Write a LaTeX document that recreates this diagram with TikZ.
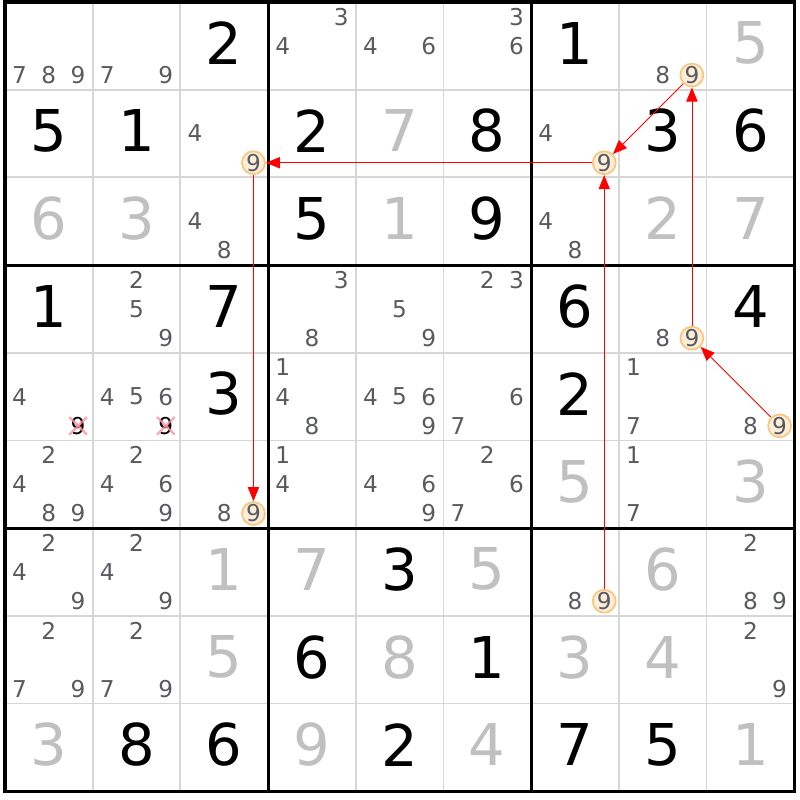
\documentclass[tikz,border=0pt]{standalone}
\usepackage{fontspec}
\setmainfont{DejaVu Sans}
\usepackage{tikz}
\usetikzlibrary{arrows.meta}
\definecolor{candgray}{RGB}{88,90,96}
\definecolor{solvedgray}{RGB}{192,192,192}
\definecolor{thingrid}{RGB}{214,214,214}
\definecolor{hlfill}{RGB}{253,238,218}
\definecolor{hldraw}{RGB}{248,200,130}
\definecolor{crosspink}{RGB}{255,140,155}
\tikzstyle{given} = [font=\fontsize{41}{41}\selectfont, text=black, inner sep=0pt]
\tikzstyle{solved} = [given, text=solvedgray]
\tikzstyle{cand} = [font=\fontsize{16.5}{16.5}\selectfont, text=candgray, inner sep=0pt]
\tikzstyle{hl} = [cand, circle, draw=hldraw, fill=hlfill, line width=1.3pt, minimum size=16pt]
\tikzstyle{thin grid} = [thingrid, line width=1.3pt]
\tikzstyle{thick grid} = [black, line width=2.2pt]
\tikzstyle{arrow} = [red, line width=0.6pt, -{Triangle[length=10pt,width=8pt]}]
\tikzstyle{cross} = [crosspink, opacity=0.8, line width=1.6pt]

\begin{document}
\begin{tikzpicture}[x=2.1925cm, y=-2.1925cm]
    \useasboundingbox (-0.057,-0.0228) rectangle (9.065,9.1);
    % grid
    \foreach \i in {1,2,4,5,7,8} {
        \draw [thin grid] (\i,0) -- (\i,9);
        \draw [thin grid] (0,\i) -- (9,\i);
    }
    \foreach \i in {3,6} {
        \draw [thick grid] (\i,0) -- (\i,9);
        \draw [thick grid] (0,\i) -- (9,\i);
    }
    \draw [thick grid] (0,0) rectangle (9,9);
    % givens
    \foreach \r/\c/\d in {0/2/2, 0/6/1, 1/0/5, 1/1/1, 1/3/2, 1/5/8, 1/7/3, 1/8/6,
                          2/3/5, 2/5/9, 3/0/1, 3/2/7, 3/6/6, 3/8/4, 4/2/3, 4/6/2,
                          6/4/3, 7/3/6, 7/5/1, 8/1/8, 8/2/6, 8/4/2, 8/6/7, 8/7/5}
        \node [given] at (\c+0.5,\r+0.47) {\d};
    % solved
    \foreach \r/\c/\d in {0/8/5, 1/4/7, 2/0/6, 2/1/3, 2/4/1, 2/7/2, 2/8/7, 5/6/5,
                          5/8/3, 6/2/1, 6/3/7, 6/5/5, 6/7/6, 7/2/5, 7/4/8, 7/6/3,
                          7/7/4, 8/0/3, 8/3/9, 8/5/4, 8/8/1}
        \node [solved] at (\c+0.5,\r+0.47) {\d};
    % candidates
    \foreach \r/\c/\ds in {0/0/{7,8,9}, 0/1/{7,9}, 0/3/{3,4}, 0/4/{4,6}, 0/5/{3,6}, 0/7/{8},
                           1/2/{4}, 1/6/{4}, 2/2/{4,8}, 2/6/{4,8},
                           3/1/{2,5,9}, 3/3/{3,8}, 3/4/{5,9}, 3/5/{2,3}, 3/7/{8},
                           4/0/{4}, 4/1/{4,5,6}, 4/3/{1,4,8}, 4/4/{4,5,6,9}, 4/5/{6,7}, 4/7/{1,7}, 4/8/{8},
                           5/0/{2,4,8,9}, 5/1/{2,4,6,9}, 5/2/{8}, 5/3/{1,4}, 5/4/{4,6,9}, 5/5/{2,6,7}, 5/7/{1,7},
                           6/0/{2,4,9}, 6/1/{2,4,9}, 6/6/{8}, 6/8/{2,8,9},
                           7/0/{2,7,9}, 7/1/{2,7,9}, 7/8/{2,9}}
        \foreach \d in \ds {
            \pgfmathtruncatemacro\k{mod(\d-1,3)}
            \pgfmathtruncatemacro\j{int((\d-1)/3)}
            \node [cand] at (\c+\k/3+1/6,\r+\j/3+1/6) {\d};
        }
    % eliminated nines
    \foreach \r/\c in {4/0, 4/1} {
        \node [cand, text=black] (x\r\c) at (\c+5/6,\r+5/6) {9};
        \draw [cross] (x\r\c.center) ++(-0.1,-0.1) -- ++(0.2,0.2);
        \draw [cross] (x\r\c.center) ++(0.1,-0.1) -- ++(-0.2,0.2);
    }
    % chain
    \foreach \r/\c in {0/7, 1/2, 1/6, 3/7, 4/8, 5/2, 6/6}
        \node [hl] (r\r c\c) at (\c+5/6,\r+5/6) {9};
    \draw [arrow] (r1c6) -- (r1c2);
    \draw [arrow] (r0c7) -- (r1c6);
    \draw [arrow] (r3c7) -- (r0c7);
    \draw [arrow] (r4c8) -- (r3c7);
    \draw [arrow] (r6c6) -- (r1c6);
    \draw [arrow] (r1c2) -- (r5c2);
\end{tikzpicture}
\end{document}
